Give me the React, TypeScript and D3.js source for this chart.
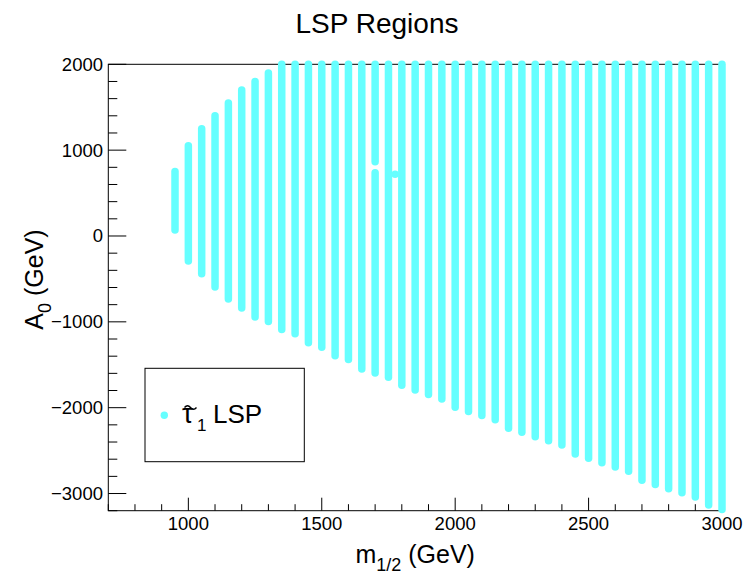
import React from "react";
import * as d3 from "d3";

// m1/2 grid values (GeV)
const m12 = [950, 1000, 1050, 1100, 1150, 1200, 1250, 1300, 1350, 1400, 1450, 1500, 1550, 1600, 1650, 1700, 1750, 1800, 1850, 1900, 1950, 2000, 2050, 2100, 2150, 2200, 2250, 2300, 2350, 2400, 2450, 2500, 2550, 2600, 2650, 2700, 2750, 2800, 2850, 2900, 2950, 3000];
// upper edge of stau-LSP region in A0 (GeV)
const a0Top = [750, 1050, 1250, 1400, 1550, 1700, 1800, 1900, 2000, 2000, 2000, 2000, 2000, 2000, 2000, 2000, 2000, 2000, 2000, 2000, 2000, 2000, 2000, 2000, 2000, 2000, 2000, 2000, 2000, 2000, 2000, 2000, 2000, 2000, 2000, 2000, 2000, 2000, 2000, 2000, 2000, 2000];
// lower edge of stau-LSP region in A0 (GeV)
const a0Bottom = [70, -290, -440, -595, -735, -840, -945, -995, -1090, -1140, -1245, -1295, -1395, -1440, -1550, -1595, -1645, -1740, -1795, -1845, -1900, -1995, -2045, -2090, -2140, -2240, -2285, -2340, -2385, -2435, -2540, -2590, -2640, -2690, -2740, -2845, -2895, -2945, -2990, -3040, -3135, -3185];
// a gap inside one column
const gapM = [1700];
const gapUpperLow = [866];
const gapLowerHigh = [738];
// isolated points
const extraM = [1775];
const extraA0 = [720];

const xMajorTicks = [1000, 1500, 2000, 2500, 3000];
const yMajorTicks = [2000, 1000, 0, -1000, -2000, -3000];

const CYAN = "#66ffff";
const FONT = "'Liberation Sans', Arial, Helvetica, sans-serif";

export default function App() {
  const left = 108.3, right = 722, top = 64.3, bottom = 510.7;
  const x = d3.scaleLinear().domain([700, 3000]).range([left, right]);
  const y = d3.scaleLinear().domain([-3200, 2000]).range([bottom, top]);
  const xMinor = d3.range(700, 3001, 100).filter((v) => v % 500 !== 0);
  const yMinor = d3.range(-3200, 2001, 200).filter((v) => v % 1000 !== 0);
  const lineW = 7.5;

  const segs: { m: number; lo: number; hi: number }[] = [];
  m12.forEach((m, i) => {
    const gi = gapM.indexOf(m);
    if (gi >= 0) {
      segs.push({ m, lo: gapUpperLow[gi], hi: a0Top[i] });
      segs.push({ m, lo: a0Bottom[i], hi: gapLowerHigh[gi] });
    } else {
      segs.push({ m, lo: a0Bottom[i], hi: a0Top[i] });
    }
  });

  return (
    <svg width={749} height={575} style={{ position: "absolute", left: 0, top: 0, background: "#fff" }} fontFamily={FONT}>
      <rect x={0} y={0} width={749} height={575} fill="#fff" />
      {/* title */}
      <text x={377} y={33} fontSize={28} textAnchor="middle">LSP Regions</text>
      {/* frame */}
      <rect x={left} y={top} width={right - left} height={bottom - top} fill="none" stroke="#000" strokeWidth={1} />
      {/* x ticks */}
      {xMajorTicks.map((v) => (
        <g key={"xm" + v}>
          <line x1={x(v)} x2={x(v)} y1={bottom} y2={bottom - 13} stroke="#000" />
          <text x={x(v)} y={530} fontSize={18.5} textAnchor="middle">{v}</text>
        </g>
      ))}
      {xMinor.map((v) => (
        <line key={"xn" + v} x1={x(v)} x2={x(v)} y1={bottom} y2={bottom - 6.5} stroke="#000" />
      ))}
      {/* y ticks */}
      {yMajorTicks.map((v) => (
        <g key={"ym" + v}>
          <line x1={left} x2={left + 18} y1={y(v)} y2={y(v)} stroke="#000" />
          <text x={103} y={y(v) + 6.5} fontSize={18.5} textAnchor="end">{v < 0 ? "\u2212" + Math.abs(v) : String(v)}</text>
        </g>
      ))}
      {yMinor.map((v) => (
        <line key={"yn" + v} x1={left} x2={left + 9} y1={y(v)} y2={y(v)} stroke="#000" />
      ))}
      {/* data columns */}
      {segs.map((s, i) => (
        <line key={"s" + i} x1={x(s.m)} x2={x(s.m)} y1={y(s.hi)} y2={y(s.lo)} stroke={CYAN} strokeWidth={lineW} strokeLinecap="round" />
      ))}
      {extraM.map((m, i) => (
        <circle key={"e" + i} cx={x(m)} cy={y(extraA0[i])} r={lineW / 2} fill={CYAN} />
      ))}
      {/* axis titles */}
      <text x={(left + right) / 2} y={563} fontSize={25} textAnchor="middle">
        m<tspan dy={8} fontSize={18}>1/2</tspan><tspan dy={-8}> (GeV)</tspan>
      </text>
      <text transform={`translate(43,${(top + bottom) / 2 - 8}) rotate(-90)`} fontSize={25} textAnchor="middle">
        A<tspan dy={8} fontSize={18}>0</tspan><tspan dy={-8}> (GeV)</tspan>
      </text>
      {/* legend */}
      <rect x={145} y={368.3} width={159.3} height={93.4} fill="#fff" stroke="#000" strokeWidth={1} />
      <circle cx={164.3} cy={415.3} r={3.7} fill={CYAN} />
      <text x={182} y={423} fontSize={28}>{"\u03C4"}</text>
      <path d="M184.5,407.5 q3,-3.5 6,0 t6,0" fill="none" stroke="#000" strokeWidth={1.4} />
      <text x={197} y={431} fontSize={17}>1</text>
      <text x={213} y={423} fontSize={26}>LSP</text>
    </svg>
  );
}
